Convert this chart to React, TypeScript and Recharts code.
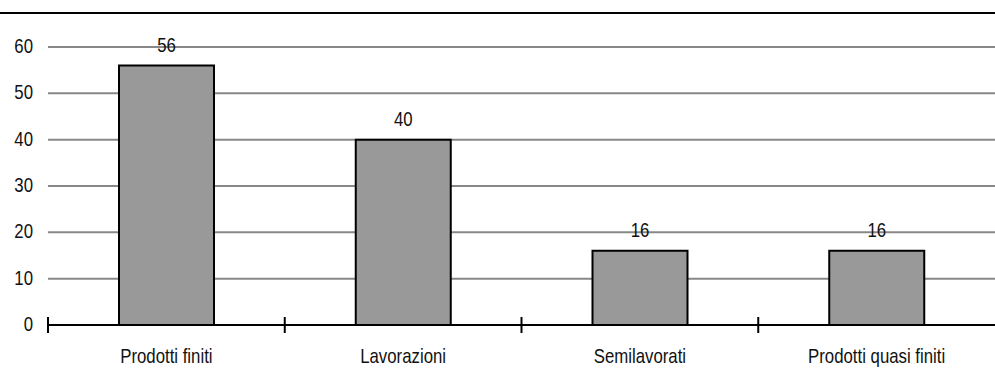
import React from "react";
import { BarChart, Bar, XAxis, YAxis, CartesianGrid, LabelList } from "recharts";

const categories = ["Prodotti finiti", "Lavorazioni", "Semilavorati", "Prodotti quasi finiti"];
const values = [56, 40, 16, 16];
const yTicks = [0, 10, 20, 30, 40, 50, 60];

const data = categories.map((name, i) => ({ name, value: values[i] }));

const CHART_W = 995;
const CHART_H = 380;
const Y_AXIS_W = 48;
const PLOT_W = CHART_W - Y_AXIS_W;
const BAND = PLOT_W / categories.length;
const FONT = "'Liberation Sans', Arial, sans-serif";
const FONT_SIZE = 20;
const CONDENSE = 0.84;

// Horizontally condensed text anchored at (x, y baseline)
function NarrowText({ x, y, anchor, children }: { x: number; y: number; anchor: "start" | "middle" | "end"; children: any }) {
  return (
    <text
      transform={`translate(${x},${y}) scale(${CONDENSE},1)`}
      x={0}
      y={0}
      textAnchor={anchor}
      fontFamily={FONT}
      fontSize={FONT_SIZE}
      fill="#111"
    >
      {children}
    </text>
  );
}

// Category label centred in its band, with a crossing tick mark on the band's left edge
function CategoryTick(props: any) {
  const { x, y, payload } = props;
  const edge = x - BAND / 2;
  return (
    <g>
      <line x1={edge} x2={edge} y1={y - 8} y2={y + 8} stroke="#000" strokeWidth={2} />
      <NarrowText x={x} y={y + 38} anchor="middle">{payload.value}</NarrowText>
    </g>
  );
}

function ValueTick(props: any) {
  const { x, y, payload } = props;
  return <NarrowText x={x} y={y + 6} anchor="end">{payload.value}</NarrowText>;
}

function BarValue(props: any) {
  const { x, y, width, value } = props;
  return <NarrowText x={Number(x) + Number(width) / 2} y={Number(y) - 14} anchor="middle">{value}</NarrowText>;
}

export default function App() {
  return (
    <div style={{ position: "absolute", left: 0, top: 0, width: CHART_W, height: CHART_H, background: "#fff" }}>
      <div style={{ position: "absolute", left: 0, top: 12, width: CHART_W, height: 2, background: "#000" }} />
      <BarChart
        width={CHART_W}
        height={CHART_H}
        data={data}
        margin={{ top: 47, right: 0, bottom: 0, left: 0 }}
      >
        <CartesianGrid vertical={false} stroke="#888" strokeWidth={2} />
        <YAxis
          width={Y_AXIS_W}
          domain={[0, 60]}
          ticks={yTicks}
          axisLine={false}
          tickLine={false}
          tickSize={0}
          tickMargin={15}
          tick={<ValueTick />}
        />
        <XAxis
          dataKey="name"
          height={55}
          axisLine={{ stroke: "#000", strokeWidth: 2 }}
          tickLine={false}
          tickSize={0}
          tickMargin={0}
          interval={0}
          tick={<CategoryTick />}
        />
        <Bar dataKey="value" fill="#999999" stroke="#000" strokeWidth={2} barSize={95} isAnimationActive={false}>
          <LabelList dataKey="value" content={<BarValue />} />
        </Bar>
      </BarChart>
    </div>
  );
}
